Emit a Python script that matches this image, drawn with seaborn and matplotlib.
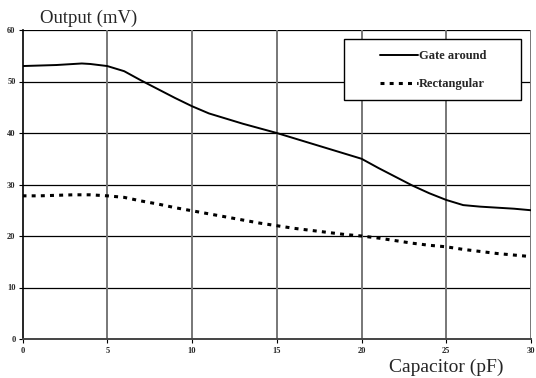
import matplotlib
matplotlib.use("Agg")
import matplotlib.pyplot as plt
import seaborn as sns
import pandas as pd
from matplotlib.lines import Line2D
from matplotlib.patches import Rectangle

capacitor = [0, 1, 2, 3, 3.5, 4, 5, 6, 7, 8, 9, 10, 11, 12, 13, 14, 15, 16, 17, 18, 19, 20,
             21, 22, 23, 24, 25, 26, 27, 28, 29, 30]
gate_around = [53.0, 53.1, 53.2, 53.4, 53.5, 53.4, 53.0, 52.0, 50.2, 48.5, 46.8, 45.2, 43.8,
               42.8, 41.8, 40.9, 40.0, 39.0, 38.0, 37.0, 36.0, 35.0, 33.2, 31.5, 29.8, 28.3,
               27.0, 26.0, 25.7, 25.5, 25.3, 25.0]
rectangular = [27.8, 27.8, 27.9, 28.0, 28.0, 28.0, 27.8, 27.5, 26.8, 26.2, 25.5, 24.9, 24.3,
               23.7, 23.1, 22.5, 22.0, 21.5, 21.1, 20.7, 20.3, 20.0, 19.6, 19.1, 18.6, 18.2,
               17.9, 17.4, 17.0, 16.6, 16.3, 16.0]
x_ticks = [0, 5, 10, 15, 20, 25, 30]
y_ticks = [0, 10, 20, 30, 40, 50, 60]

df = pd.DataFrame({"Capacitor": capacitor, "Gate around": gate_around, "Rectangular": rectangular})
long = df.melt(id_vars="Capacitor", var_name="Series", value_name="Output")

sns.set_style("white")
plt.rcParams['font.family'] = ['Liberation Serif', 'DejaVu Serif']

W, H = 536, 378
fig = plt.figure(figsize=(W / 100, H / 100), dpi=100)
ax = fig.add_axes([22.5 / W, 1 - 339 / H, (531 - 22.5) / W, (339 - 30) / H])

sns.lineplot(data=long, x="Capacitor", y="Output", hue="Series", style="Series",
             palette={"Gate around": "black", "Rectangular": "black"},
             dashes={"Gate around": "", "Rectangular": (1.3, 1.7)},
             ax=ax, legend=False, linewidth=1.4)
for ln in ax.get_lines():
    if ln.get_linestyle() != '-':
        ln.set_linewidth(2.2)

ax.set_xlim(0, 30)
ax.set_ylim(0, 60)
ax.set_xticks(x_ticks)
ax.set_yticks(y_ticks)
ax.set_xticklabels([str(v) for v in x_ticks], fontsize=6, fontweight='bold')
ax.set_yticklabels([str(v) for v in y_ticks], fontsize=6, fontweight='bold')
for v in y_ticks[1:]:
    ax.axhline(v, color='black', lw=0.9, zorder=0.5)
for v in x_ticks[1:]:
    ax.axvline(v, color='#777777', lw=1.4, zorder=0.5)
ax.tick_params(axis='both', length=3, width=0.8, pad=2, direction='out',
               left=True, bottom=True, color='black')
ax.tick_params(axis='x', pad=3)
for s in ['top', 'right']:
    ax.spines[s].set_visible(False)
ax.spines['left'].set_color('black')
ax.spines['left'].set_linewidth(1.2)
ax.spines['bottom'].set_color('#444444')
ax.spines['bottom'].set_linewidth(1.4)
ax.set_xlabel("")
ax.set_ylabel("")

fig.text(40 / W, 1 - 18 / H, "Output (mV)", fontsize=13.5, va='center', ha='left')
fig.text(389 / W, 1 - 367 / H, "Capacitor (pF)", fontsize=14, va='center', ha='left')

# legend box
box = Rectangle((344 / W, 1 - 100 / H), (521 - 344) / W, (100 - 39) / H,
                transform=fig.transFigure, facecolor='white', edgecolor='black',
                lw=1.0, zorder=5)
fig.add_artist(box)
handles = [Line2D([], [], color='black', lw=1.4),
           Line2D([], [], color='black', lw=2.2, linestyle=(0, (1.3, 1.7)))]
leg = fig.legend(handles, ["Gate around", "Rectangular"], loc='upper left',
                 bbox_to_anchor=(380 / W, 1 - 50 / H), frameon=False,
                 prop={'weight': 'bold', 'size': 9}, handlelength=3.0, handletextpad=0.1,
                 borderpad=0, labelspacing=1.3, borderaxespad=0)
leg.set_zorder(6)

fig.savefig("out.png", dpi=100)
